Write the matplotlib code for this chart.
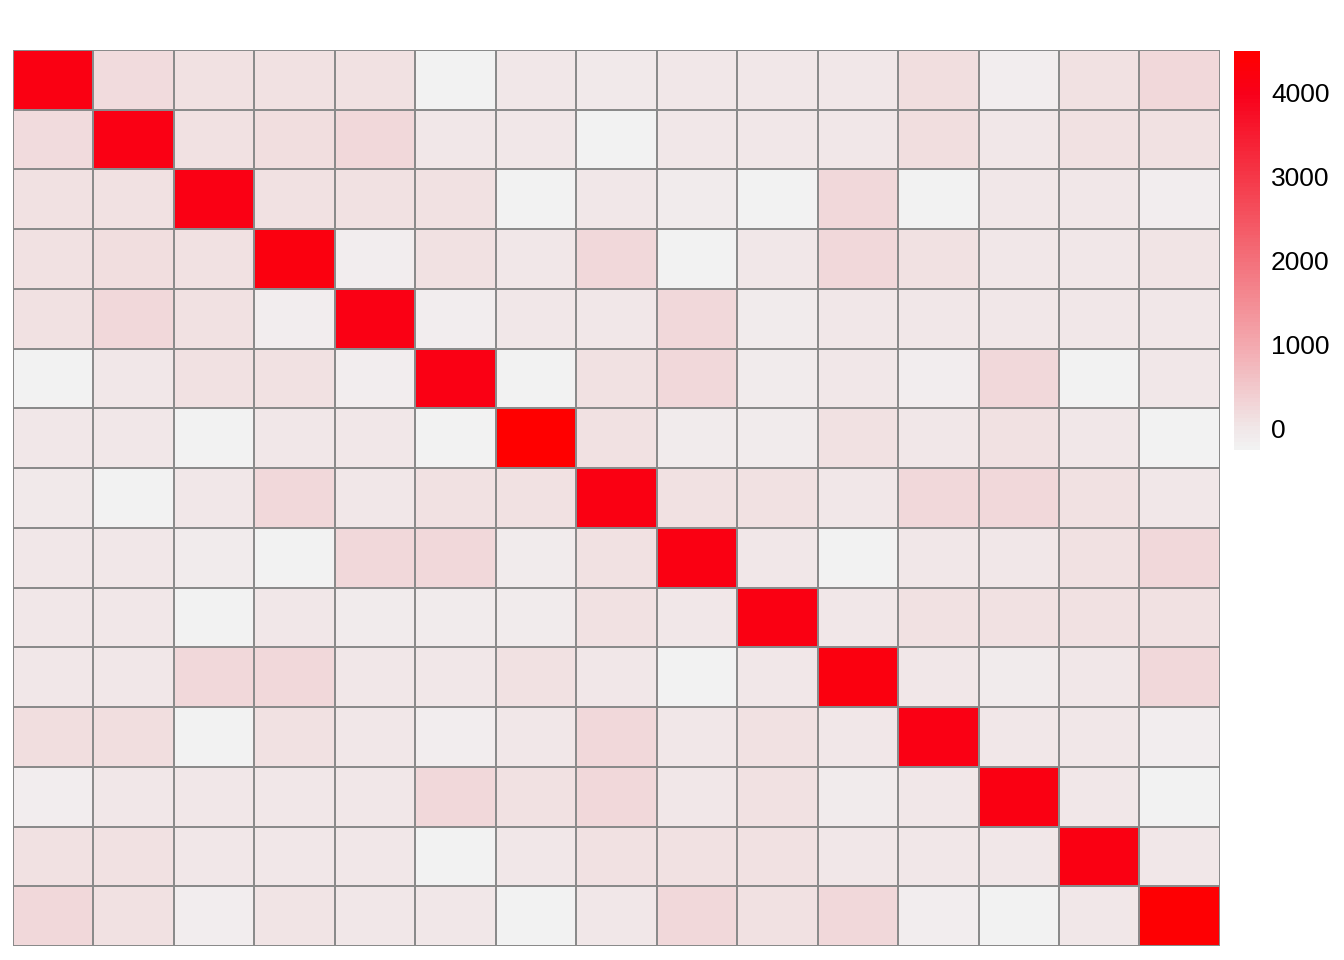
import numpy as np
import matplotlib
matplotlib.use("Agg")
import matplotlib.pyplot as plt
from matplotlib.colors import LinearSegmentedColormap, Normalize

plt.rcParams['font.family'] = ['Liberation Sans', 'DejaVu Sans']

# 15x15 symmetric matrix
vals = np.array([
    [4120,  180,  110,  100,  120, -250,   10,  -60,   20,    0,   30,  130, -120,  120,  240],
    [ 180, 4100,  110,  170,  230,   20,    0, -250,   10,   20,   30,  140,   20,  110,  110],
    [ 110,  110, 4110,  100,  120,  120, -250,   20,  -80, -240,  240, -250,   20,   30, -110],
    [ 100,  170,  100, 4180, -110,  110,   20,  230, -250,   10,  230,  120,   20,   10,   60],
    [ 120,  230,  120, -110, 4110, -110,   20,   10,  240, -100,   20,   10,   20,   20,   20],
    [-250,   20,  120,  110, -110, 4100, -250,  110,  230, -100,   20, -110,  230, -250,   30],
    [  10,    0, -250,   20,   20, -250, 4490,  120, -100,  -90,  110,   20,  120,   20, -250],
    [ -60, -250,   20,  230,   10,  110,  120, 4150,  110,  120,   20,  230,  240,  120,   30],
    [  20,   10,  -80, -250,  240,  230, -100,  110, 4130,   20, -250,   20,   20,  110,  240],
    [   0,   20, -240,   10, -100, -100,  -90,  120,   20, 4120,   20,  120,  110,  120,  110],
    [  30,   30,  240,  230,   20,   20,  110,   20, -250,   20, 4200,   20, -100,   20,  230],
    [ 130,  140, -250,  120,   10, -110,   20,  230,   20,  120,   20, 4110,   20,   20, -110],
    [-120,   20,   20,   20,   20,  230,  120,  240,   20,  110, -100,   20, 4140,   20, -250],
    [ 120,  110,   30,   10,   20, -250,   20,  120,  110,  120,   20,   20,   20, 4130,   20],
    [ 240,  110, -110,   60,   20,   30, -250,   30,  240,  110,  230, -110, -250,   20, 4400],
])
cbar_ticks = [0, 1000, 2000, 3000, 4000]
vmin, vmax = -250, 4490

cmap = LinearSegmentedColormap.from_list(
    "greyred",
    [(0.0, "#F2F2F2"), (0.053, "#F1E6E7"), (0.264, "#F3A8AE"),
     (0.475, "#F3707A"), (0.686, "#F53848"), (0.897, "#F8001A"), (1.0, "#FF0000")],
    N=100)

fig = plt.figure(figsize=(13.44, 9.6), dpi=100)
ax = fig.add_axes([0.0097, 0.0146, 0.898, 0.9334])
n = vals.shape[0]
mesh = ax.pcolormesh(np.arange(n + 1), np.arange(n + 1), vals, cmap=cmap,
                     norm=Normalize(vmin, vmax), edgecolors="#8A8A8A", linewidth=1.4)
ax.set_xlim(0, n)
ax.set_ylim(n, 0)
ax.set_xticks([])
ax.set_yticks([])
for s in ax.spines.values():
    s.set_visible(False)

cax = fig.add_axes([0.918, 0.5313, 0.0195, 0.4156])
cb = fig.colorbar(mesh, cax=cax, ticks=cbar_ticks)
cb.outline.set_visible(False)
cax.tick_params(length=0, labelsize=19, pad=8)

fig.savefig("out.png", dpi=100)
